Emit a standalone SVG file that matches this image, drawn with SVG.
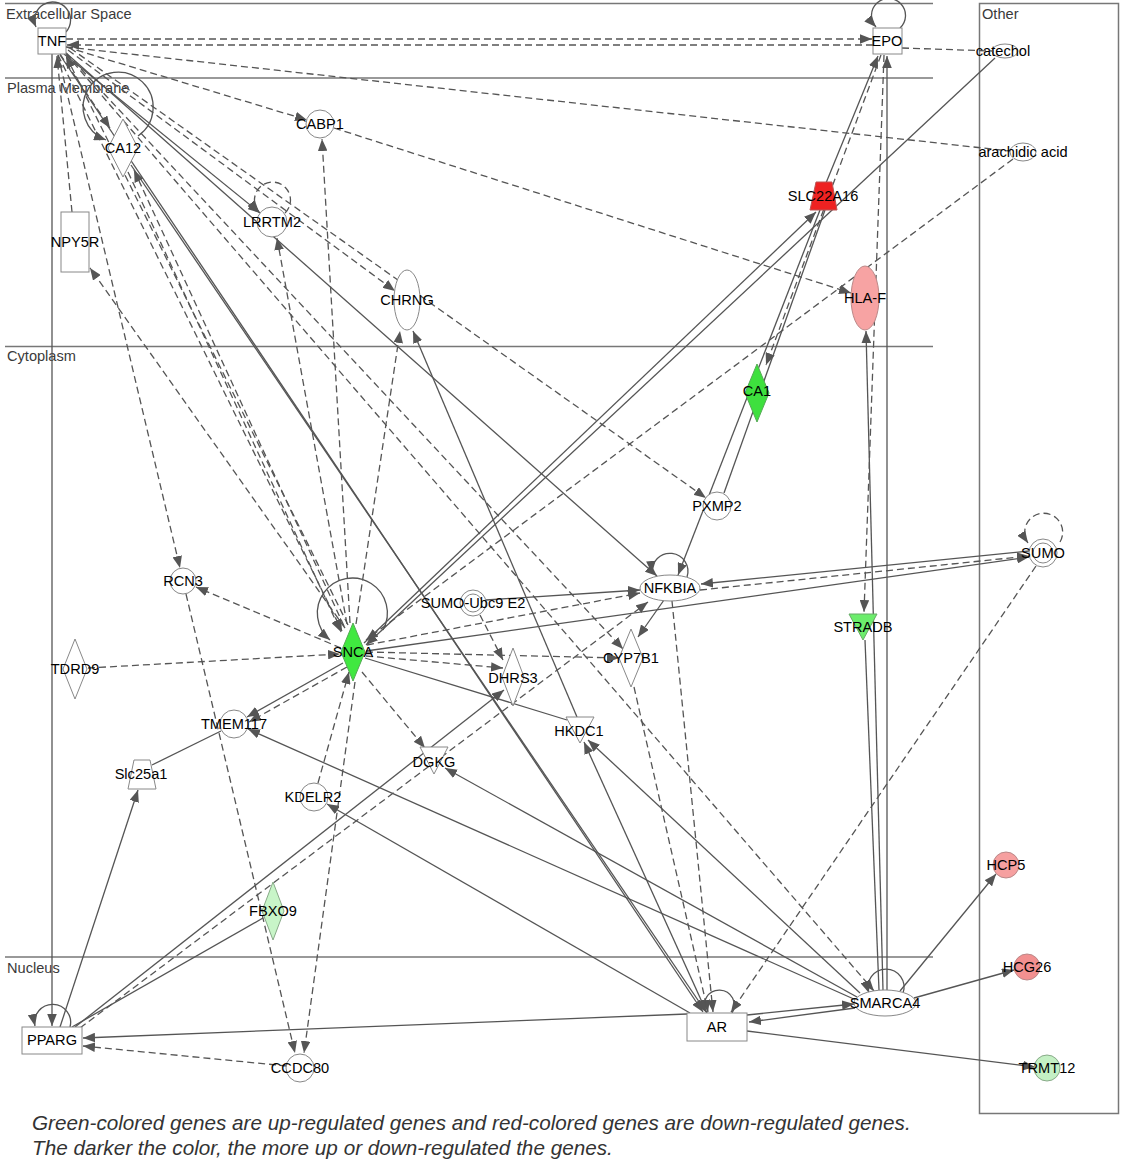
<svg xmlns="http://www.w3.org/2000/svg" width="1125" height="1173" viewBox="0 0 1125 1173">
<style>
.bg{fill:#fff}
.cl{stroke:#777;stroke-width:1.5;fill:none}
.ct{font-family:"Liberation Sans",Arial,sans-serif;font-size:14.6px;fill:#3a3a3a}
.e{stroke:#555;stroke-width:1.3;fill:none}
.d{stroke-dasharray:7,4}
.n{fill:#fff;stroke:#888;stroke-width:1}
.t{font-family:"Liberation Sans",Arial,sans-serif;font-size:14.6px;fill:#000;text-anchor:middle}
.cap{font-family:"Liberation Sans",Arial,sans-serif;font-size:20.7px;font-style:italic;fill:#333}
</style>
<defs>
<marker id="a" viewBox="0 0 10 8" refX="10" refY="4" markerWidth="12" markerHeight="9.6" markerUnits="userSpaceOnUse" orient="auto">
<path d="M0,0 L10,4 L0,8 z" fill="#555"/>
</marker>
</defs>
<rect class="bg" x="0" y="0" width="1125" height="1173"/>
<g id="compartments">
<line class="cl" x1="5" y1="3.5" x2="933" y2="3.5"/>
<line class="cl" x1="5" y1="78" x2="933" y2="78"/>
<line class="cl" x1="5" y1="346.5" x2="933" y2="346.5"/>
<line class="cl" x1="5" y1="957" x2="933" y2="957"/>
<rect class="cl" x="979.5" y="3.5" width="139" height="1110"/>
<text class="ct" x="6" y="19">Extracellular Space</text>
<text class="ct" x="7" y="93">Plasma Membrane</text>
<text class="ct" x="7" y="361">Cytoplasm</text>
<text class="ct" x="7" y="973">Nucleus</text>
<text class="ct" x="982" y="19">Other</text>
</g>
<g id="connectors" marker-end="url(#a)">
<path class="e d" d="M66,39 L872,39"/>
<path class="e d" d="M873,45 L67,45"/>
<path class="e d" d="M902,48 L992,51" marker-end="none"/>
<path class="e d" d="M66,47 L1010,151" marker-end="none"/>
<path class="e d" d="M66,47 L307,120"/>
<path class="e d" d="M334,128 L851,293"/>
<path class="e d" d="M60,54 L110,128"/>
<path class="e" d="M64,54 L260,213"/>
<path class="e" d="M66,53 L657,576"/>
<path class="e d" d="M68,50 L395,291"/>
<path class="e d" d="M70,48 L706,498"/>
<path class="e d" d="M58,55 L180,568"/>
<path class="e d" d="M72,212 L57,56"/>
<path class="e d" d="M345,628 L90,268"/>
<path class="e d" d="M58,55 L342,631"/>
<path class="e d" d="M348,625 L66,56"/>
<path class="e" d="M52,54 L52,1026"/>
<path class="e" d="M60,55 L703,1012"/>
<path class="e d" d="M66,54 L874,991"/>
<path class="e d" d="M66,53 L623,649"/>
<path class="e" d="M66,32 A18,18 0 1 0 36,27"/>
<path class="e" d="M138,136 A35,35 0 1 0 106,140"/>
<path class="e d" d="M344,626 L134,170"/>
<path class="e d" d="M128,172 L341,632"/>
<path class="e" d="M131,165 L706,1012"/>
<path class="e d" d="M350,623 L322,139"/>
<path class="e d" d="M285,213 A18,18 0 1 0 259,212"/>
<path class="e d" d="M347,624 L277,238"/>
<path class="e d" d="M356,624 L400,331"/>
<path class="e" d="M577,717 L413,331"/>
<path class="e" d="M900,28 A17,17 0 1 0 876,27"/>
<path class="e" d="M887,990 L887,56"/>
<path class="e d" d="M884,55 L864,612"/>
<path class="e" d="M826,183 L878,56"/>
<path class="e d" d="M881,55 L766,365"/>
<path class="e" d="M364,643 L816,212"/>
<path class="e" d="M995,58 L366,645"/>
<path class="e d" d="M1013,159 L366,640"/>
<path class="e" d="M820,210 L678,575"/>
<path class="e" d="M825,210 L724,493" marker-end="none"/>
<path class="e" d="M883,990 L866,331"/>
<path class="e" d="M865,640 L879,990" marker-end="none"/>
<path class="e" d="M687,577 A18,18 0 1 0 652,573"/>
<path class="e" d="M664,600 L638,637"/>
<path class="e" d="M1029,551 L701,584"/>
<path class="e d" d="M700,590 L1029,556"/>
<path class="e" d="M366,651 L1029,557"/>
<path class="e" d="M486,600 L640,590"/>
<path class="e d" d="M367,645 L640,593"/>
<path class="e d" d="M80,1028 L648,602"/>
<path class="e" d="M75,1027 L504,690"/>
<path class="e" d="M263,918 L72,1027" marker-end="none"/>
<path class="e" d="M60,1027 L138,790"/>
<path class="e" d="M152,765 L221,731" marker-end="none"/>
<path class="e" d="M687,1014 L83,1038"/>
<path class="e d" d="M287,1066 L83,1046"/>
<path class="e d" d="M355,682 L304,1053"/>
<path class="e d" d="M186,594 L295,1053"/>
<path class="e" d="M383,630 A35,35 0 1 0 330,640"/>
<path class="e d" d="M341,648 L196,587"/>
<path class="e d" d="M88,668 L340,654"/>
<path class="e" d="M343,663 L247,717"/>
<path class="e d" d="M347,667 L249,722"/>
<path class="e d" d="M318,783 L349,672"/>
<path class="e" d="M690,1013 L327,804"/>
<path class="e d" d="M362,672 L425,748"/>
<path class="e d" d="M366,656 L503,668"/>
<path class="e d" d="M366,652 L619,658"/>
<path class="e" d="M365,658 L567,720" marker-end="none"/>
<path class="e d" d="M480,615 L503,660"/>
<path class="e" d="M857,997 L445,768"/>
<path class="e" d="M856,1000 L248,729"/>
<path class="e" d="M860,993 L588,740"/>
<path class="e" d="M707,1013 L584,742"/>
<path class="e d" d="M672,601 L713,1012"/>
<path class="e d" d="M634,687 L708,1012"/>
<path class="e d" d="M1036,566 L731,1012"/>
<path class="e" d="M732,1013 A15,15 0 1 0 706,1012"/>
<path class="e" d="M747,1015 L854,1004"/>
<path class="e" d="M855,1008 L749,1022"/>
<path class="e" d="M903,993 A18,18 0 1 0 869,993"/>
<path class="e" d="M900,991 L996,874"/>
<path class="e" d="M914,998 L1014,970"/>
<path class="e" d="M747,1031 L1035,1067"/>
<path class="e d" d="M1060,542 A19,19 0 1 0 1028,543"/>
<path class="e" d="M70,1027 A18,18 0 1 0 35,1026"/>
</g>
<g id="TNF"><rect class="n" x="38" y="28" width="28" height="26"/><text class="t" x="52" y="46">TNF</text></g>
<g id="EPO"><rect class="n" x="873" y="28" width="29" height="26"/><text class="t" x="887" y="46">EPO</text></g>
<g id="catechol"><ellipse class="n" cx="1005" cy="51" rx="13" ry="7"/><text class="t" x="1003" y="56">catechol</text></g>
<g id="arachidic-acid"><ellipse class="n" cx="1023" cy="152" rx="13" ry="9"/><text class="t" x="1023" y="157">arachidic acid</text></g>
<g id="CABP1"><circle class="n" cx="320" cy="124" r="14"/><text class="t" x="320" y="129">CABP1</text></g>
<g id="CA12"><polygon class="n" points="123,119 138,148 123,177 108,148"/><text class="t" x="123" y="153">CA12</text></g>
<g id="LRRTM2"><circle class="n" cx="272" cy="222" r="15"/><text class="t" x="272" y="227">LRRTM2</text></g>
<g id="NPY5R"><rect class="n" x="61" y="212" width="28" height="60"/><text class="t" x="75" y="247">NPY5R</text></g>
<g id="CHRNG"><ellipse class="n" cx="407" cy="300" rx="13" ry="30"/><text class="t" x="407" y="305">CHRNG</text></g>
<g id="SLC22A16"><polygon points="816,182 832,182 837,210 810,210" fill="#ee2222" stroke="#b55" stroke-width="1"/><text class="t" x="823" y="201">SLC22A16</text></g>
<g id="HLA-F"><ellipse cx="865" cy="298" rx="14" ry="32" fill="#f7a3a3" stroke="#b88" stroke-width="1"/><text class="t" x="865" y="303">HLA-F</text></g>
<g id="CA1"><polygon points="757,364 769,393 757,422 745,393" fill="#3ee03e" stroke="#5a5" stroke-width="1"/><text class="t" x="757" y="396">CA1</text></g>
<g id="PXMP2"><circle class="n" cx="717" cy="506" r="14"/><text class="t" x="717" y="511">PXMP2</text></g>
<g id="NFKBIA"><ellipse class="n" cx="670" cy="588" rx="30" ry="13"/><text class="t" x="670" y="593">NFKBIA</text></g>
<g id="SUMO"><circle class="n" cx="1043" cy="553" r="14"/><circle class="n" cx="1043" cy="553" r="10"/><text class="t" x="1043" y="558">SUMO</text></g>
<g id="RCN3"><circle class="n" cx="183" cy="581" r="13"/><text class="t" x="183" y="586">RCN3</text></g>
<g id="SUMO-Ubc9-E2"><circle class="n" cx="473" cy="603" r="13"/><circle class="n" cx="473" cy="603" r="9"/><text class="t" x="473" y="608">SUMO-Ubc9 E2</text></g>
<g id="SNCA"><polygon points="353,623 365,652 353,681 341,652" fill="#40e840" stroke="#5a5" stroke-width="1"/><text class="t" x="353" y="657">SNCA</text></g>
<g id="STRADB"><polygon points="849,614 877,614 863,640" fill="#6ced6c" stroke="#6a6" stroke-width="1"/><text class="t" x="863" y="632">STRADB</text></g>
<g id="TDRD9"><polygon class="n" points="75,639 87,669 75,699 63,669"/><text class="t" x="75" y="674">TDRD9</text></g>
<g id="CYP7B1"><polygon class="n" points="631,629 643,658 631,687 619,658"/><text class="t" x="631" y="663">CYP7B1</text></g>
<g id="DHRS3"><polygon class="n" points="513,648 524,677 513,706 502,677"/><text class="t" x="513" y="683">DHRS3</text></g>
<g id="TMEM117"><circle class="n" cx="234" cy="724" r="14"/><text class="t" x="234" y="729">TMEM117</text></g>
<g id="HKDC1"><polygon class="n" points="566,717 594,717 580,743"/><text class="t" x="579" y="736">HKDC1</text></g>
<g id="DGKG"><polygon class="n" points="420,747 448,747 434,774"/><text class="t" x="434" y="767">DGKG</text></g>
<g id="Slc25a1"><polygon class="n" points="134,760 150,760 156,789 128,789"/><text class="t" x="141" y="779">Slc25a1</text></g>
<g id="KDELR2"><circle class="n" cx="314" cy="797" r="14"/><text class="t" x="313" y="802">KDELR2</text></g>
<g id="FBXO9"><polygon points="273,882 284,911 273,940 262,911" fill="#c8f5c8" stroke="#8a8" stroke-width="1"/><text class="t" x="273" y="916">FBXO9</text></g>
<g id="PPARG"><rect class="n" x="22" y="1027" width="60" height="27"/><text class="t" x="52" y="1045">PPARG</text></g>
<g id="CCDC80"><circle class="n" cx="300" cy="1068" r="14"/><text class="t" x="300" y="1073">CCDC80</text></g>
<g id="AR"><rect class="n" x="687" y="1013" width="60" height="28"/><text class="t" x="717" y="1032">AR</text></g>
<g id="SMARCA4"><ellipse class="n" cx="885" cy="1003" rx="31" ry="13"/><text class="t" x="885" y="1008">SMARCA4</text></g>
<g id="HCP5"><circle cx="1006" cy="865" r="13" fill="#f6a0a0" stroke="#b88" stroke-width="1"/><text class="t" x="1006" y="870">HCP5</text></g>
<g id="HCG26"><circle cx="1027" cy="967" r="13" fill="#f29090" stroke="#b88" stroke-width="1"/><text class="t" x="1027" y="972">HCG26</text></g>
<g id="TRMT12"><circle cx="1047" cy="1068" r="13" fill="#c4f0c4" stroke="#8a8" stroke-width="1"/><text class="t" x="1047" y="1073">TRMT12</text></g>
<g id="caption">
<text class="cap" x="32" y="1130">Green-colored genes are up-regulated genes and red-colored genes are down-regulated genes.</text>
<text class="cap" x="32" y="1155">The darker the color, the more up or down-regulated the genes.</text>
</g>
</svg>
